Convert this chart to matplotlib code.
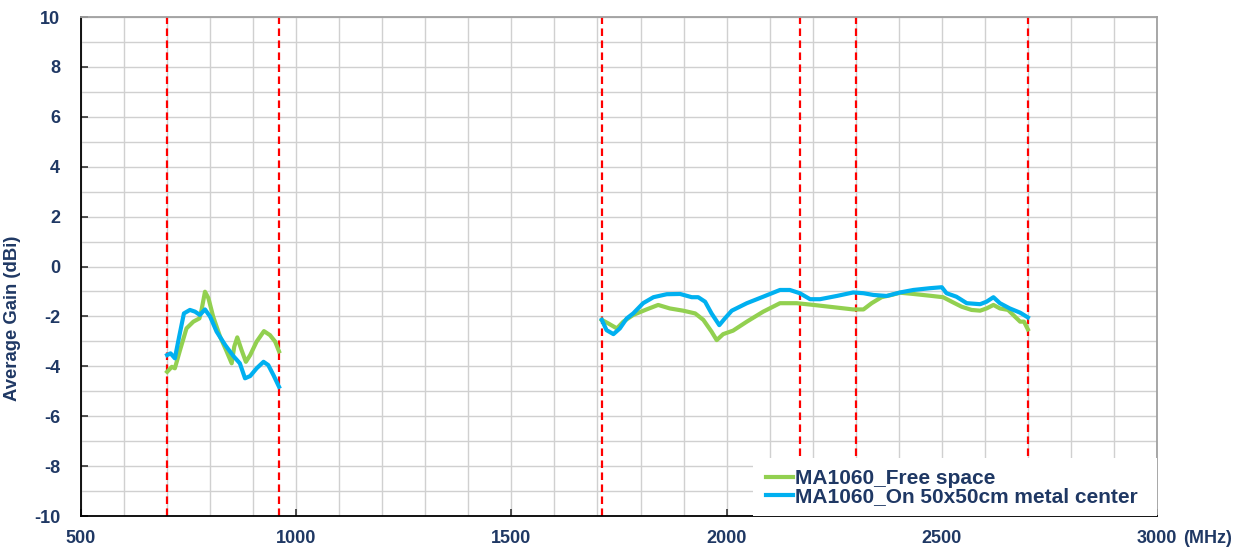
import numpy as np
import matplotlib.pyplot as plt
from matplotlib.patches import Rectangle
from matplotlib.ticker import MultipleLocator

# ------------------------------------------------------------
# Average gain of MA1060, free space vs. on metal plate
# ------------------------------------------------------------

# low band (MHz / dBi)
freq_lo_free = [700, 711, 718, 730, 745, 761, 775, 780, 788, 796, 807, 823,
                837, 850, 856, 863, 873, 883, 893, 908, 925, 939, 951, 960]
gain_lo_free = [-4.22, -4.02, -4.08, -3.35, -2.48, -2.21, -2.08, -1.74, -1.01,
                -1.27, -2.01, -2.81, -3.35, -3.88, -3.21, -2.84, -3.35, -3.82,
                -3.55, -3.01, -2.59, -2.75, -3.01, -3.40]

freq_lo_metal = [700, 708, 718, 728, 739, 753, 765, 776, 788, 800, 815, 835,
                 854, 869, 881, 893, 908, 924, 935, 947, 960]
gain_lo_metal = [-3.55, -3.48, -3.68, -2.81, -1.88, -1.74, -1.81, -1.94, -1.72,
                 -2.01, -2.61, -3.15, -3.59, -3.88, -4.48, -4.39, -4.08, -3.82,
                 -3.95, -4.35, -4.82]

# high band (MHz / dBi)
freq_hi_free = [1710, 1725, 1745, 1760, 1783, 1814, 1841, 1868, 1899, 1927,
                1946, 1965, 1977, 1992, 2015, 2047, 2085, 2124, 2163, 2202,
                2248, 2294, 2318, 2337, 2360, 2383, 2403, 2434, 2472, 2503,
                2523, 2546, 2569, 2589, 2604, 2620, 2635, 2654, 2670, 2682,
                2691, 2700]
gain_hi_free = [-2.14, -2.28, -2.48, -2.21, -1.94, -1.72, -1.54, -1.68, -1.77,
                -1.88, -2.14, -2.61, -2.95, -2.71, -2.57, -2.21, -1.81, -1.47,
                -1.47, -1.54, -1.63, -1.72, -1.72, -1.47, -1.23, -1.14, -1.05,
                -1.10, -1.17, -1.23, -1.41, -1.61, -1.74, -1.77, -1.68, -1.54,
                -1.68, -1.74, -2.01, -2.21, -2.21, -2.52]

freq_hi_metal = [1710, 1721, 1737, 1752, 1768, 1783, 1806, 1830, 1861, 1892,
                 1919, 1934, 1950, 1965, 1983, 1996, 2012, 2047, 2085, 2124,
                 2147, 2170, 2194, 2217, 2256, 2294, 2318, 2341, 2372, 2403,
                 2434, 2472, 2500, 2511, 2534, 2558, 2589, 2604, 2620, 2635,
                 2658, 2682, 2700]
gain_hi_metal = [-2.14, -2.55, -2.71, -2.48, -2.08, -1.88, -1.47, -1.23, -1.11,
                 -1.10, -1.23, -1.23, -1.41, -1.88, -2.35, -2.08, -1.77, -1.47,
                 -1.21, -0.94, -0.94, -1.07, -1.31, -1.31, -1.18, -1.04, -1.07,
                 -1.14, -1.18, -1.04, -0.94, -0.87, -0.83, -1.07, -1.21, -1.47,
                 -1.51, -1.41, -1.23, -1.47, -1.68, -1.85, -2.04]

# band edges (MHz)
band_edges = [700, 960, 1710, 2170, 2300, 2700]

labels = ["MA1060_Free space", "MA1060_On 50x50cm metal center"]

green = "#92D050"
blue = "#00B0F0"
navy = "#1F3864"

plt.rcParams["font.family"] = ["Liberation Sans", "DejaVu Sans"]
plt.rcParams["font.weight"] = "bold"
plt.rcParams["axes.unicode_minus"] = False

fig = plt.figure(figsize=(12.43, 5.51), dpi=100)
ax = fig.add_axes([0.0652, 0.0635, 0.8656, 0.9056])

# ------------------------------------------------------------
# curves
# ------------------------------------------------------------
ax.plot(freq_lo_free, gain_lo_free, color=green, lw=3.0, label=labels[0], zorder=3)
ax.plot(freq_hi_free, gain_hi_free, color=green, lw=3.0, zorder=3)
ax.plot(freq_lo_metal, gain_lo_metal, color=blue, lw=3.0, label=labels[1], zorder=4)
ax.plot(freq_hi_metal, gain_hi_metal, color=blue, lw=3.0, zorder=4)

for f in band_edges:
    ax.axvline(f, color="#FF0000", lw=1.6, dashes=(3.4, 2.0), zorder=2)

# white block behind the legend (hides grid and dashed lines there)
ax.add_patch(Rectangle((0.6245, 0.0), 0.3755, 0.116, transform=ax.transAxes,
                       facecolor="white", edgecolor="none", zorder=5))

# ------------------------------------------------------------
# axes, grid, ticks
# ------------------------------------------------------------
ax.set_xlim(500, 3000)
ax.set_ylim(-10, 10)
ax.xaxis.set_major_locator(MultipleLocator(500))
ax.xaxis.set_minor_locator(MultipleLocator(100))
ax.yaxis.set_major_locator(MultipleLocator(2))
ax.yaxis.set_minor_locator(MultipleLocator(1))

ax.grid(True, which="both", color="#D0D0D0", lw=1.0, zorder=0)
ax.set_axisbelow(True)

ax.tick_params(axis="both", which="major", direction="in", length=5, width=1.2,
               colors="#333333", labelcolor=navy, labelsize=13)
ax.tick_params(axis="x", which="major", pad=10)
ax.tick_params(axis="y", which="major", pad=15)
ax.tick_params(which="minor", length=0)

for lab in ax.get_xticklabels() + ax.get_yticklabels():
    lab.set_fontweight("bold")

for side in ["left", "bottom"]:
    ax.spines[side].set_color("black")
    ax.spines[side].set_linewidth(1.3)
for side in ["top", "right"]:
    ax.spines[side].set_color("#A0A0A0")
    ax.spines[side].set_linewidth(1.3)

ax.set_ylabel("Average Gain (dBi)", fontsize=13.3, fontweight="bold", color=navy)
ax.yaxis.set_label_coords(-0.056, 0.397)
ax.text(1.024, -0.028, "(MHz)", transform=ax.transAxes, fontsize=13,
        fontweight="bold", color=navy, ha="left", va="top")

leg = ax.legend(loc="lower right", bbox_to_anchor=(0.982, 0.02),
                borderaxespad=0, borderpad=0, frameon=False, fontsize=15,
                handlelength=1.3, handletextpad=0.1, labelspacing=-0.05)
for t in leg.get_texts():
    t.set_color(navy)
    t.set_fontweight("bold")
leg.set_zorder(10)

fig.savefig("out.png", dpi=100)
